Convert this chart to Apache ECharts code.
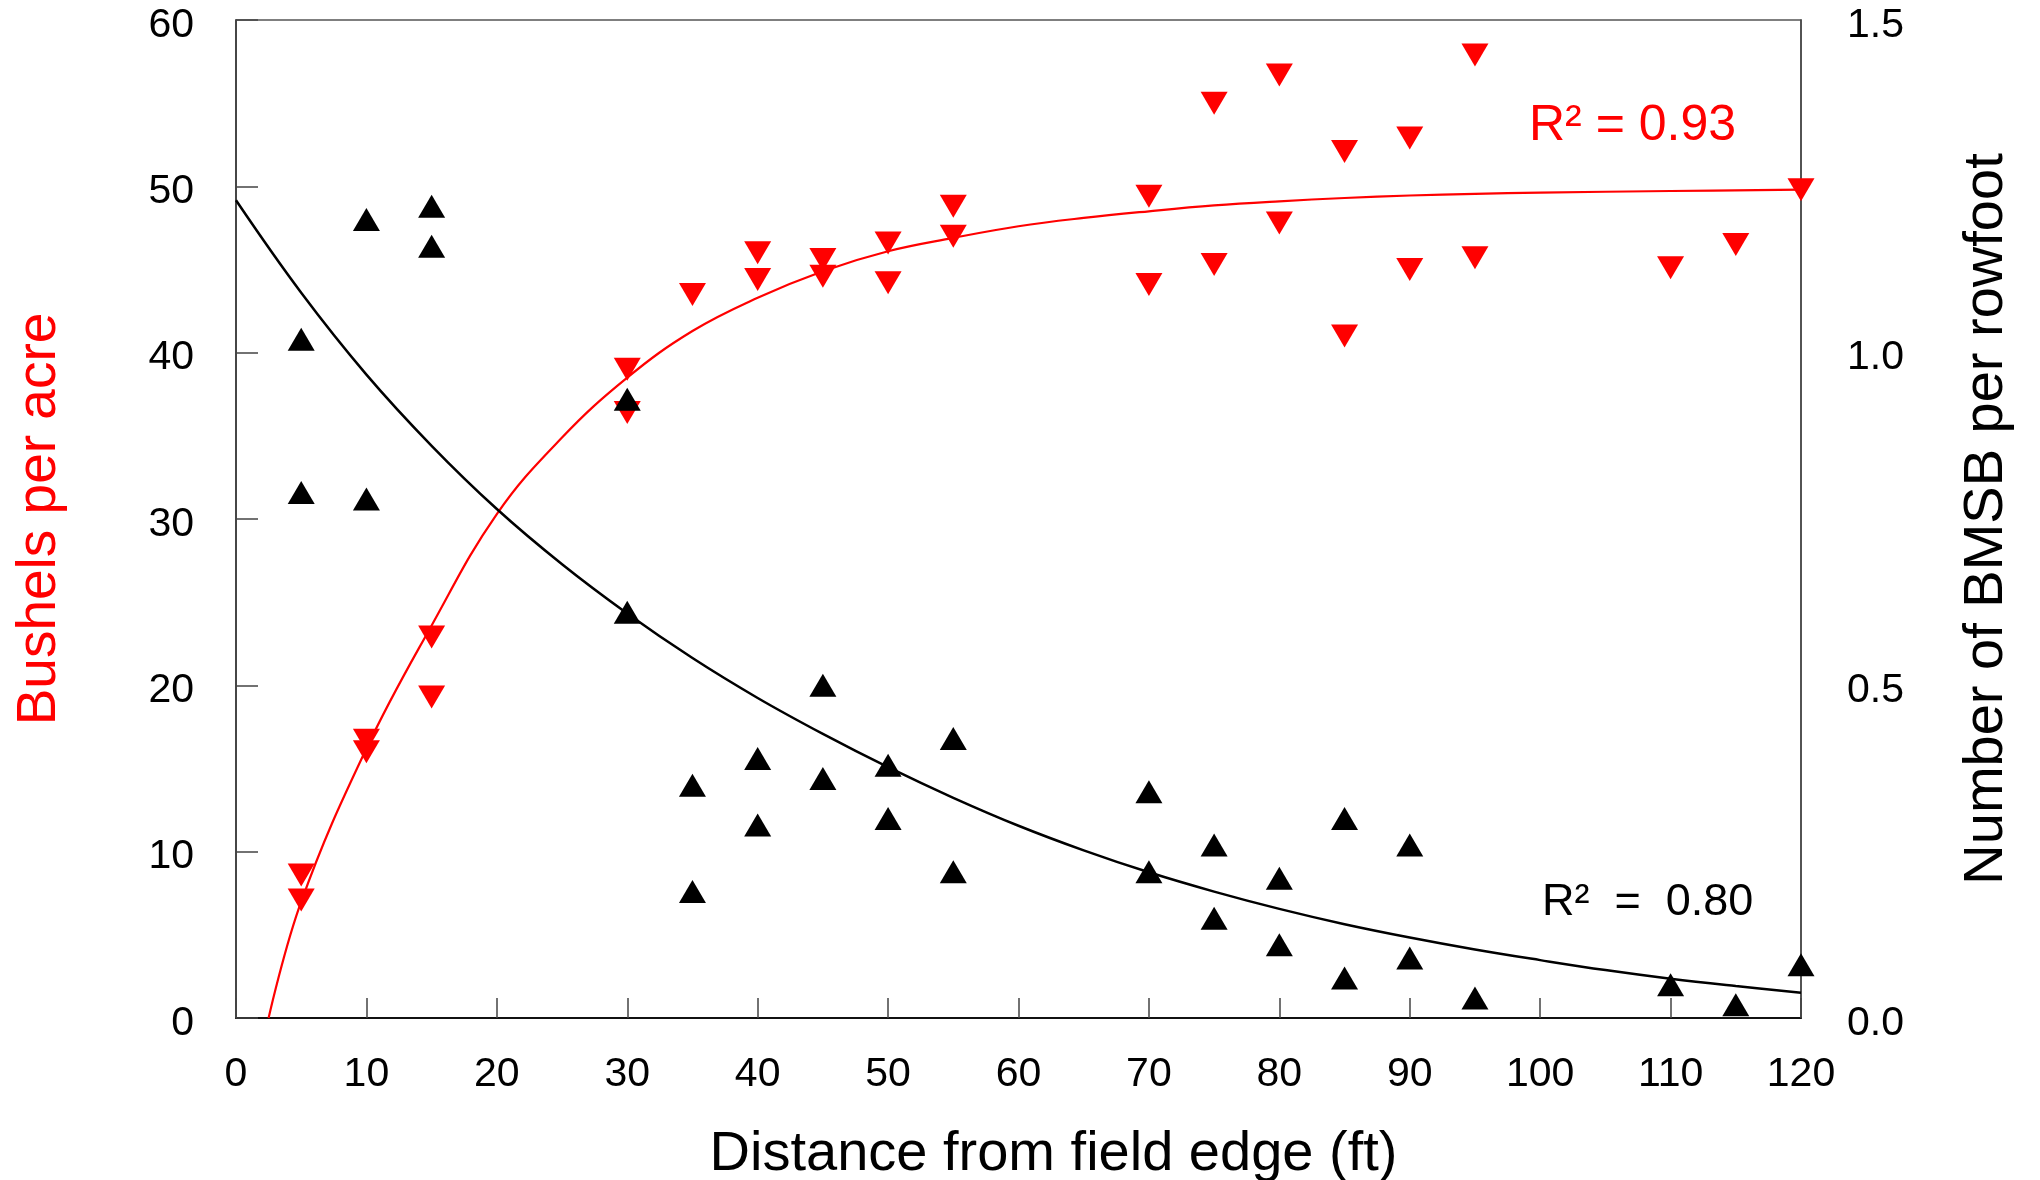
<!DOCTYPE html>
<html>
<head>
<meta charset="utf-8">
<script src="https://cdn.jsdelivr.net/npm/echarts@6/dist/echarts.min.js"></script>
<style>
html,body{margin:0;padding:0;background:#fff;}
#chart{width:2040px;height:1180px;}
</style>
</head>
<body>
<div id="chart"></div>
<script>
// ---- Data ----
// Yield points (Bushels per acre, left axis)
const yieldX = [5,5,10,10,15,15,30,30,35,40,40,45,45,50,50,55,55,70,70,75,75,80,80,85,85,90,90,95,95,110,115,120];
const yieldY = [8.6,7.1,16.7,16.0,22.9,19.3,39.0,36.4,43.5,46.0,44.4,45.6,44.6,46.6,44.2,48.8,47.0,49.4,44.1,55.0,45.3,56.7,47.8,52.1,41.0,52.9,45.0,57.9,45.7,45.1,46.5,49.8];

// BMSB points (Number per rowfoot, right axis)
const bmsbX = [5,5,10,10,15,15,30,30,35,35,40,40,45,45,50,50,55,55,70,70,75,75,80,80,85,85,90,90,95,110,115,120];
const bmsbY = [1.02,0.79,1.20,0.78,1.22,1.16,0.93,0.61,0.35,0.19,0.39,0.29,0.50,0.36,0.38,0.30,0.42,0.22,0.34,0.22,0.26,0.15,0.21,0.11,0.30,0.06,0.26,0.09,0.03,0.05,0.02,0.08];

// Fitted curve (yield)
const yieldFitX = [2.5,5,10,15,20,25,30,35,40,45,50,55,60,65,70,75,80,85,90,95,100,110,120];
const yieldFitY = [0,7.0,16.2,23.6,30.3,34.9,38.5,41.3,43.3,44.9,46.1,46.9,47.6,48.1,48.5,48.85,49.1,49.3,49.45,49.55,49.62,49.72,49.8];

// Fitted curve (BMSB)
const bmsbFitX = [0,5,10,15,20,25,30,35,40,45,50,55,60,65,70,75,80,85,90,95,100,105,110,115,120];
const bmsbFitY = [1.229,1.090,0.967,0.860,0.765,0.682,0.608,0.541,0.481,0.427,0.377,0.331,0.289,0.252,0.219,0.190,0.164,0.141,0.121,0.103,0.087,0.072,0.059,0.048,0.038];

// Axis ticks
const xTicks = {min:0, max:120, interval:10};
const leftTicks = {min:0, max:60, interval:10};
const rightTicks = {min:0, max:1.5, interval:0.5};

const labels = {
  x: 'Distance from field edge (ft)',
  left: 'Bushels per acre',
  right: 'Number of BMSB per rowfoot',
  r2Yield: 'R\u00B2 = 0.93',
  r2Bmsb: 'R\u00B2  =  0.80'
};

const FONT = '"Liberation Sans", Arial, Helvetica, sans-serif';

function pairs(xs, ys){ return xs.map((x,i)=>[x, ys[i]]); }

const chart = echarts.init(document.getElementById('chart'));
chart.setOption({
  backgroundColor: '#fff',
  animation: false,
  textStyle: {fontFamily: FONT},
  grid: {left:236, top:20, width:1565, height:998, outerBoundsMode:'none', containLabel:false,
         show:true, borderColor:'#555', borderWidth:1.5, backgroundColor:'transparent'},
  xAxis: {
    type:'value', min:xTicks.min, max:xTicks.max, interval:xTicks.interval,
    name: labels.x, nameLocation:'middle', nameGap:109,
    nameTextStyle:{fontSize:56, color:'#000', fontFamily:FONT, padding:[0,0,0,70]},
    axisLine:{show:true, onZero:false, lineStyle:{color:'#111', width:2}},
    axisTick:{show:true, inside:true, length:20, lineStyle:{color:'#444', width:1.5}},
    axisLabel:{fontSize:41, color:'#000', margin:36, fontFamily:FONT},
    splitLine:{show:false}
  },
  yAxis: [{
    type:'value', position:'left', min:leftTicks.min, max:leftTicks.max, interval:leftTicks.interval,
    name: labels.left, nameLocation:'middle', nameGap:169, nameRotate:90,
    nameTextStyle:{fontSize:55, color:'#ff0000', fontFamily:FONT},
    axisLine:{show:true, onZero:false, lineStyle:{color:'#333', width:1.5}},
    axisTick:{show:true, inside:true, length:22, lineStyle:{color:'#444', width:1.5}},
    axisLabel:{fontSize:41, color:'#000', margin:42, fontFamily:FONT, verticalAlign:'top', lineHeight:11},
    splitLine:{show:false}
  },{
    type:'value', position:'right', min:rightTicks.min, max:rightTicks.max, interval:rightTicks.interval,
    name: labels.right, nameLocation:'middle', nameGap:158, nameRotate:90,
    nameTextStyle:{fontSize:56, color:'#000', fontFamily:FONT},
    axisLine:{show:true, onZero:false, lineStyle:{color:'#444', width:1.5}},
    axisTick:{show:false},
    axisLabel:{fontSize:41, color:'#000', margin:46, fontFamily:FONT, verticalAlign:'top', lineHeight:11, formatter:(v)=>v.toFixed(1)},
    splitLine:{show:false}
  }],
  series: [
    {
      name:'Yield', type:'scatter', yAxisIndex:0,
      data: pairs(yieldX, yieldY),
      symbol:'triangle', symbolRotate:180, symbolSize:[27,23],
      itemStyle:{color:'#ff0000', opacity:1}, z:2
    },
    {
      name:'BMSB', type:'scatter', yAxisIndex:1,
      data: pairs(bmsbX, bmsbY),
      symbol:'triangle', symbolSize:[27,23],
      itemStyle:{color:'#000', opacity:1}, z:3
    },
    {
      name:'Yield fit', type:'line', yAxisIndex:0, smooth:0.4, showSymbol:false,
      data: pairs(yieldFitX, yieldFitY),
      lineStyle:{color:'#ff0000', width:2.2}, z:4
    },
    {
      name:'BMSB fit', type:'line', yAxisIndex:1, smooth:0.4, showSymbol:false,
      data: pairs(bmsbFitX, bmsbFitY),
      lineStyle:{color:'#000', width:2.5}, z:4
    }
  ],
  graphic: [
    {type:'text', left:1529, top:101, style:{text:labels.r2Yield, fill:'#ff0000', fontSize:50, fontFamily:FONT}},
    {type:'text', left:1542, top:880, style:{text:labels.r2Bmsb, fill:'#000', fontSize:45, fontFamily:FONT}}
  ]
});
</script>
</body>
</html>
